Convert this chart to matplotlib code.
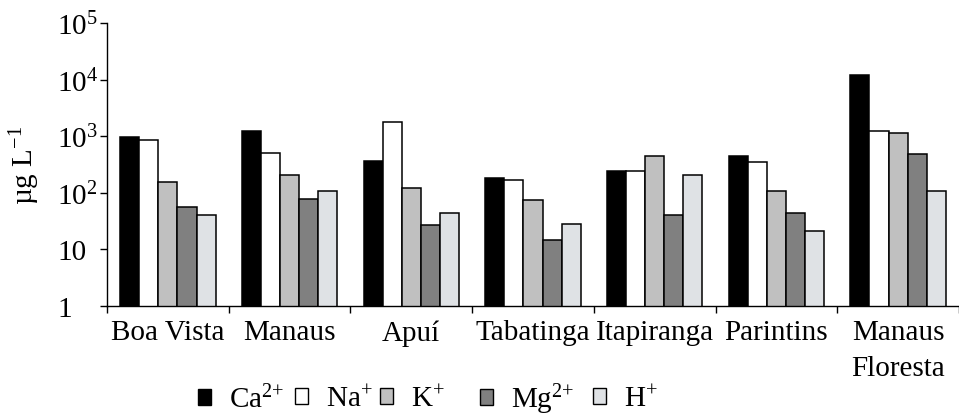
import matplotlib
matplotlib.use('Agg')
import matplotlib.pyplot as plt
import numpy as np
from matplotlib.patches import Patch

# Dados (µg/L)
locais = ['Boa Vista', 'Manaus', 'Apuí', 'Tabatinga', 'Itapiranga', 'Parintins', 'Manaus\nFloresta']
ca = [950, 1260, 360, 184, 245, 446, 12200]
na = [870, 510, 1810, 167, 238, 349, 1240]
k = [157, 208, 124, 74, 438, 107, 1150]
mg = [55, 79, 26.5, 14.6, 41, 43.6, 475]
h = [41, 107, 44, 28.6, 208, 21, 107]

ions = ['$\\mathregular{Ca^{2{+}}}$', '$\\mathregular{Na^{{+}}}$', '$\\mathregular{K^{{+}}}$',
        '$\\mathregular{Mg^{2{+}}}$', '$\\mathregular{H^{{+}}}$']
cores = ['black', 'white', '#c0c0c0', '#808080', '#dfe2e5']
series = [ca, na, k, mg, h]

plt.rcParams['font.family'] = 'Liberation Serif'
plt.rcParams['mathtext.fontset'] = 'custom'
plt.rcParams['mathtext.rm'] = 'Liberation Serif'
plt.rcParams['mathtext.it'] = 'Liberation Serif:italic'
plt.rcParams['font.size'] = 21

fig = plt.figure(figsize=(9.59, 4.14), dpi=100)
ax = fig.add_axes([0.1116, 0.2585, 0.8884, 0.6835])

x = np.arange(len(locais))
w = 0.157
for j, (vals, cor) in enumerate(zip(series, cores)):
    ax.bar(x + (j - 2) * w, vals, w, color=cor, edgecolor='black', linewidth=1.1)

ax.set_yscale('log')
ax.set_ylim(1, 1e5)
ax.set_xlim(-0.5, 6.444)

ax.set_yticks([1, 10, 100, 1e3, 1e4, 1e5])
ax.set_yticklabels(['1', '10', '$\\mathregular{10^2}$', '$\\mathregular{10^3}$',
                    '$\\mathregular{10^4}$', '$\\mathregular{10^5}$'])
ax.yaxis.set_minor_locator(matplotlib.ticker.NullLocator())
ax.tick_params(axis='y', length=5, width=1, pad=31)
for lab in ax.get_yticklabels():
    lab.set_ha('left')

ax.set_xticks(x)
ax.set_xticklabels(locais, linespacing=1.5)
ax.set_xticks(np.arange(len(locais) + 1) - 0.5, minor=True)
ax.tick_params(axis='x', which='major', length=0, pad=9.5)
ax.tick_params(axis='x', which='minor', length=5, width=1)

ax.spines['top'].set_visible(False)
ax.spines['right'].set_visible(False)
ax.spines['left'].set_linewidth(1)
ax.spines['bottom'].set_linewidth(1)

ax.set_ylabel('µg L$^{\\mathregular{-1}}$')
ax.yaxis.set_label_coords(-0.076, 0.5)

# legenda: um item por vez para acertar os espaçamentos
pos_leg = [198, 295, 380, 480, 593]
for nome, cor, px in zip(ions, cores, pos_leg):
    fig.legend(handles=[Patch(facecolor=cor, edgecolor='black', linewidth=1)], labels=[nome],
               loc='center left', bbox_to_anchor=(px / 959, 0.034), frameon=False,
               borderpad=0, borderaxespad=0, handlelength=0.45, handleheight=0.45,
               handletextpad=0.6, fontsize=21)

fig.savefig('out.png', dpi=100)
